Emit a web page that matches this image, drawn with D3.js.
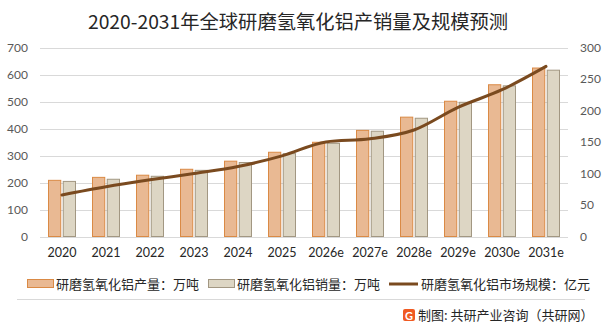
<!DOCTYPE html>
<html><head><meta charset="utf-8">
<script src="https://cdn.jsdelivr.net/npm/d3@7/dist/d3.min.js"></script>
<style>
html,body{margin:0;padding:0;background:#fff;}
svg{display:block;}
</style></head>
<body>
<svg id="c" width="602" height="332"></svg>
<script>
const categories = ["2020","2021","2022","2023","2024","2025","2026e","2027e","2028e","2029e","2030e","2031e"];
const production = [208,219,227,249,279,312,349,393,442,501,562,624];
const sales = [204,212,223,245,274,307,345,390,438,497,558,616];
const marketSize = [66,79,90,100,111,128,150,155,169,205,233,270];
const leftTicks = [0,100,200,300,400,500,600,700];
const rightTicks = [0,50,100,150,200,250,300];
const title = "2020-2031年全球研磨氢氧化铝产销量及规模预测";
const legendLabels = ["研磨氢氧化铝产量：万吨","研磨氢氧化铝销量：万吨","研磨氢氧化铝市场规模：亿元"];
const footer = "制图: 共研产业咨询（共研网）";

const svg = d3.select("#c");
const cjk = "'Noto Sans CJK SC','Noto Sans',sans-serif";
const num = "'Lato','Open Sans',sans-serif";
const L = 40, R = 568, T = 47.5, B = 236.5;

const x = d3.scaleBand().domain(categories).range([L, R]).paddingInner(16/44).paddingOuter(8/44);
const xs = d3.scaleBand().domain(["p","s"]).range([0, x.bandwidth()]).paddingInner(0.1);
const yL = d3.scaleLinear().domain([0,700]).range([B, T]);
const yR = d3.scaleLinear().domain([0,300]).range([B, T]);

// title
svg.append("text").attr("x", 298).attr("y", 29).attr("text-anchor","middle")
  .style("font-family", cjk).style("font-size","19.3px").style("fill","#262626").text(title);

// gridlines
svg.append("g").selectAll("line").data(leftTicks).join("line")
  .attr("x1", L).attr("x2", R).attr("y1", d=>Math.round(yL(d))+0.5).attr("y2", d=>Math.round(yL(d))+0.5)
  .attr("stroke","#D9D9D9").attr("stroke-width",1);

// left axis
const ga = svg.append("g").attr("transform",`translate(${L},0)`)
  .call(d3.axisLeft(yL).tickValues(leftTicks).tickSize(0).tickPadding(12));
ga.select(".domain").remove();
ga.selectAll("text").style("font-family",num).style("font-size","12px").style("fill","#595959");

// right axis
const gr = svg.append("g").attr("transform",`translate(${R},0)`)
  .call(d3.axisRight(yR).tickValues(rightTicks).tickSize(0).tickPadding(12));
gr.select(".domain").remove();
gr.selectAll("text").style("font-family",num).style("font-size","12px").style("fill","#595959");

// bottom axis
const gb = svg.append("g").attr("transform",`translate(0,${B})`)
  .call(d3.axisBottom(x).tickSize(0).tickPadding(12));
gb.select(".domain").remove();
gb.selectAll("text").style("font-family",num).style("font-size","12.5px").style("fill","#262626");

// bars
const g = svg.append("g");
g.selectAll("rect.p").data(categories).join("rect").attr("class","p")
  .attr("x", (d)=>x(d)+xs("p")+0.5).attr("width", xs.bandwidth()-1)
  .attr("y", (d,i)=>yL(production[i])).attr("height",(d,i)=>B-yL(production[i]))
  .attr("fill","#E9B993").attr("stroke","#DA8A45").attr("stroke-width",1);
g.selectAll("rect.s").data(categories).join("rect").attr("class","s")
  .attr("x", (d)=>x(d)+xs("s")+0.5).attr("width", xs.bandwidth()-1)
  .attr("y", (d,i)=>yL(sales[i])).attr("height",(d,i)=>B-yL(sales[i]))
  .attr("fill","#DDD6C4").attr("stroke","#A29782").attr("stroke-width",1);

// line
const line = d3.line().x((d,i)=>x(categories[i])+x.bandwidth()/2).y(d=>yR(d)).curve(d3.curveMonotoneX);
svg.append("path").datum(marketSize).attr("d", line)
  .attr("fill","none").attr("stroke","#7A4A1F").attr("stroke-width",3).attr("stroke-linecap","round");

// legend
const ly = 284;
const lg = svg.append("g");
const items = [
  {type:"rect", fill:"#E9B993", stroke:"#DA8A45", sx:27, tx:56},
  {type:"rect", fill:"#DDD6C4", stroke:"#A29782", sx:208, tx:237},
  {type:"line", stroke:"#7A4A1F", sx:389, tx:421}
];
items.forEach((it,i)=>{
  if(it.type==="rect"){
    lg.append("rect").attr("x",it.sx+0.5).attr("y",ly-4.5).attr("width",26).attr("height",8)
      .attr("fill",it.fill).attr("stroke",it.stroke);
  } else {
    lg.append("line").attr("x1",it.sx).attr("x2",it.sx+29).attr("y1",ly).attr("y2",ly)
      .attr("stroke",it.stroke).attr("stroke-width",3);
  }
  lg.append("text").attr("x",it.tx).attr("y",ly+4.5)
    .style("font-family",cjk).style("font-size","13px").style("fill","#262626").text(legendLabels[i]);
});

// footer separator
svg.append("line").attr("x1",17).attr("x2",585).attr("y1",299.5).attr("y2",299.5)
  .attr("stroke","#D9D9D9").attr("stroke-width",1);

// logo
const lgx = 403, lgy = 309;
svg.append("rect").attr("x",lgx).attr("y",lgy).attr("width",12).attr("height",12).attr("rx",2).attr("fill","#F05A22");
svg.append("text").attr("x",lgx+6).attr("y",lgy+10.5).attr("text-anchor","middle")
  .style("font-family",num).style("font-weight","bold").style("font-size","11px").style("fill","#fff").text("G");
svg.append("text").attr("x",418).attr("y",320)
  .style("font-family",cjk).style("font-size","13px").style("fill","#262626").text(footer);
</script>
</body></html>
